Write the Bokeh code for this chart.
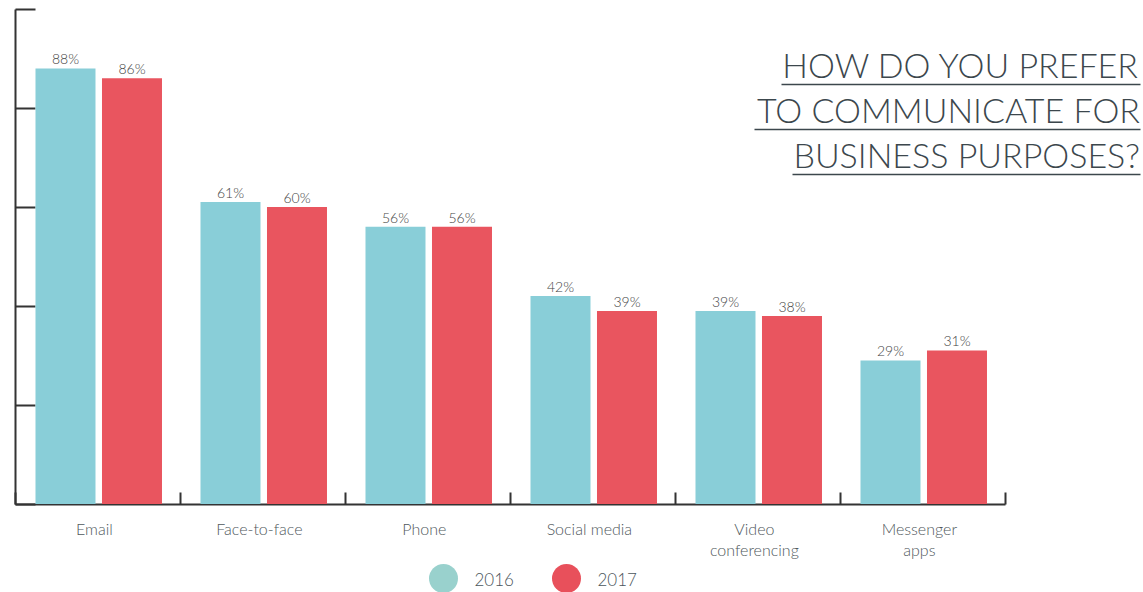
from bokeh.plotting import figure
from bokeh.models import Range1d, LinearAxis, FixedTicker, ColumnDataSource
from bokeh.embed import file_html
from bokeh.resources import INLINE
from bokeh.core.properties import value
import numpy as np

# ---------------- data ----------------
categories = ["Email", "Face-to-face", "Phone", "Social media", "Video\nconferencing", "Messenger\napps"]
values_2016 = [88, 61, 56, 42, 39, 29]
values_2017 = [86, 60, 56, 39, 38, 31]
series = ["2016", "2017"]
y_ticks = [0, 20, 40, 60, 80, 100]
title_lines = ["HOW DO YOU PREFER", "TO COMMUNICATE FOR", "BUSINESS PURPOSES?"]

# ---------------- layout / style ----------------
W, H = 1143, 592
MARGIN = 0
X0 = 15.0      # page x of category origin
CAT = 165.0    # px per category
Y0 = 503.5     # page y of value 0
UNIT = 4.95    # px per percent
MID = 0.4      # baseline -> middle shift (em)

def dx(px):
    return (px - X0) / CAT

def dy(py):
    return (Y0 - py) / UNIT

C16, C17 = "#89CED8", "#E9555F"
L16, L17 = "#99D1CD", "#E8505B"
AXIS_C = "#333333"
TXT = "#444444"
TITLE_C = "#3c474d"
FONT = "Lato Light"

p = figure(width=W, height=H, output_backend="svg", toolbar_location=None,
           x_range=Range1d(dx(MARGIN), dx(MARGIN + W)),
           y_range=Range1d(dy(MARGIN + H), dy(MARGIN)),
           x_axis_location=None, y_axis_location=None,
           min_border=0, outline_line_color=None,
           background_fill_color="white", border_fill_color="white")
p.xgrid.visible = False
p.ygrid.visible = False

n = len(categories)
idx = np.arange(n)
x16 = idx + 0.303
x17 = idx + 0.706
bar_w = 60 / CAT

# axes (drawn under the bars)
yax = LinearAxis(fixed_location=0, bounds=(0, 100), ticker=FixedTicker(ticks=y_ticks),
                 major_tick_in=20, major_tick_out=0, minor_tick_line_color=None,
                 major_label_overrides={t: "" for t in y_ticks},
                 major_label_text_font_size="0px", major_label_standoff=0,
                 axis_line_color=AXIS_C, axis_line_width=2,
                 major_tick_line_color=AXIS_C, major_tick_line_width=2, level="underlay")
p.add_layout(yax, "left")
xt = list(range(n + 1))
xax = LinearAxis(fixed_location=0, bounds=(0, n), ticker=FixedTicker(ticks=xt),
                 major_tick_in=12, major_tick_out=0, minor_tick_line_color=None,
                 major_label_overrides={t: "" for t in xt},
                 major_label_text_font_size="0px", major_label_standoff=0,
                 axis_line_color=AXIS_C, axis_line_width=2,
                 major_tick_line_color=AXIS_C, major_tick_line_width=2, level="underlay")
p.add_layout(xax, "below")

# bars
p.vbar(x=x16, top=values_2016, bottom=0, width=bar_w, fill_color=C16, line_color=None)
p.vbar(x=x17, top=values_2017, bottom=0, width=bar_w, fill_color=C17, line_color=None)

# value labels
lab = ColumnDataSource(dict(
    x=list(x16) + list(x17),
    y=values_2016 + values_2017,
    t=[f"{v}%" for v in values_2016 + values_2017]))
p.text(x="x", y="y", text="t", source=lab, text_align="center", text_baseline="middle",
       y_offset=-4 - MID * 14, text_font=value(FONT), text_font_size="14px", text_color=TXT)

# category labels (one row per line)
cx, cy, ct, co = [], [], [], []
for i, c in enumerate(categories):
    for j, line in enumerate(c.split("\n")):
        cx.append(i + 0.478)
        cy.append(dy(534))
        ct.append(line)
        co.append(j * 21.5 - MID * 16)
p.text(x=cx, y=cy, text=ct, y_offset=co, text_align="center", text_baseline="middle",
       text_font=value(FONT), text_font_size="16px", text_color="#4f585c")

# legend
p.scatter(x=[dx(443), dx(566)], y=[dy(578), dy(578)], size=29, marker="circle",
          fill_color=[L16, L17], line_color=None)
p.text(x=[dx(474), dx(597)], y=[dy(586), dy(586)], text=series, text_align="left",
       text_baseline="middle", y_offset=-MID * 17, text_font=value(FONT),
       text_font_size="17px", text_color="#4b565c")

# title
TS = 34
tx = dx(1139.5)
base = [78, 123, 168]
p.text(x=[tx] * 3, y=[dy(b) for b in base], text=title_lines, text_align="right",
       text_baseline="middle", y_offset=-MID * TS, text_font=value(FONT),
       text_font_size=f"{TS}px", text_color=TITLE_C)
u_left = [781, 754, 792]
p.segment(x0=[dx(l) for l in u_left], x1=[dx(1140)] * 3,
          y0=[dy(b + 6) for b in base], y1=[dy(b + 6) for b in base],
          line_color=TITLE_C, line_width=1.5)

open("out.html", "w").write(file_html(p, INLINE))
